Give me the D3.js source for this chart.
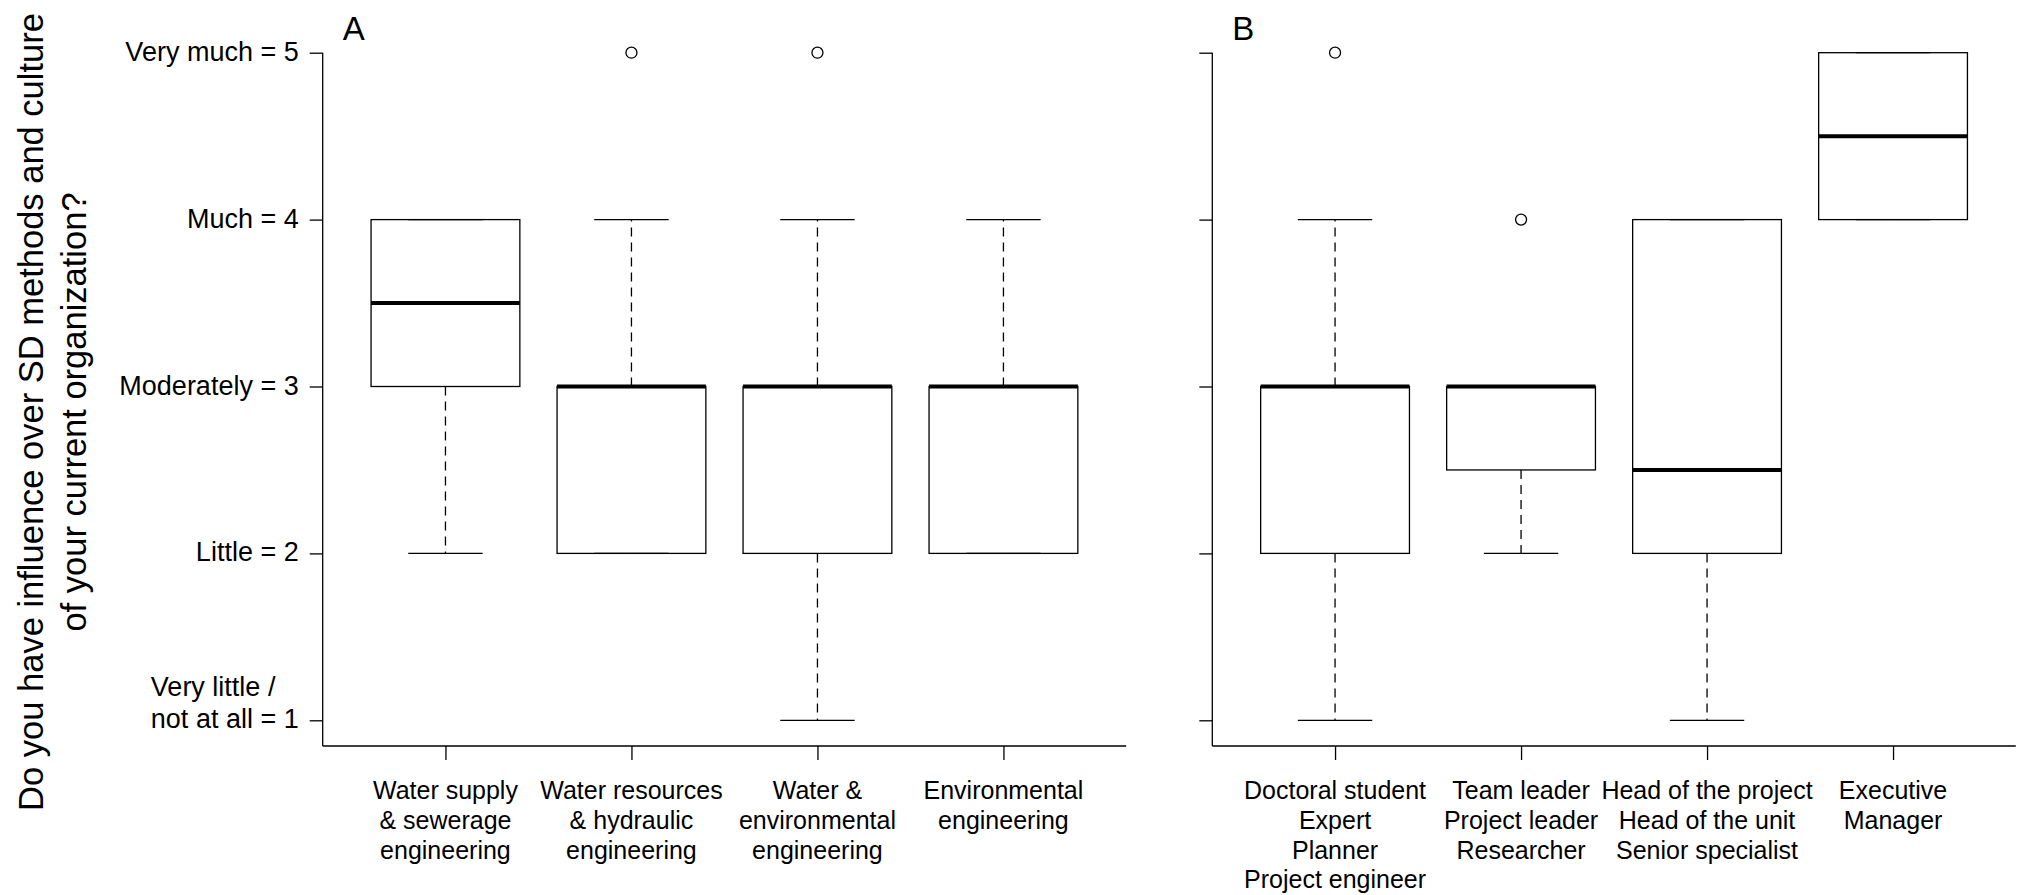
<!DOCTYPE html>
<html>
<head>
<meta charset="utf-8">
<script src="https://cdn.jsdelivr.net/npm/d3@7"></script>
<style>
  body { margin: 0; background: #fff; }
  svg { display: block; font-family: "Liberation Sans", Arial, sans-serif; }
</style>
</head>
<body>
<div id="chart"></div>
<script>
// Likert scale ticks
const yTickValues = [1, 2, 3, 4, 5];
const yTickLabels = [["Very little /", "not at all = 1"], ["Little = 2"], ["Moderately = 3"], ["Much = 4"], ["Very much = 5"]];

// Panel A: field of study
const fieldLabels = [
    ["Water supply", "& sewerage", "engineering"],
    ["Water resources", "& hydraulic", "engineering"],
    ["Water &", "environmental", "engineering"],
    ["Environmental", "engineering"]
];
const fieldLow = [2, 2, 1, 2];
const fieldQ1 = [3, 2, 2, 2];
const fieldMedian = [3.5, 3, 3, 3];
const fieldQ3 = [4, 3, 3, 3];
const fieldHigh = [4, 4, 4, 4];
const fieldOutliers = [[], [5], [5], []];

// Panel B: position
const roleLabels = [
    ["Doctoral student", "Expert", "Planner", "Project engineer"],
    ["Team leader", "Project leader", "Researcher"],
    ["Head of the project", "Head of the unit", "Senior specialist"],
    ["Executive", "Manager"]
];
const roleLow = [1, 2, 1, 4];
const roleQ1 = [2, 2.5, 2, 4];
const roleMedian = [3, 3, 2.5, 4.5];
const roleQ3 = [3, 3, 4, 5];
const roleHigh = [4, 3, 4, 5];
const roleOutliers = [[5], [4], [], []];

const yTitle = ["Do you have influence over SD methods and culture", "of your current organization?"];

function main() {
    const width = 2024, height = 895;
    const panelWidth = 803.5;
    const xAxisY = 746;

    const svg = d3.select("#chart").append("svg")
        .attr("width", width)
        .attr("height", height);

    const yScale = d3.scaleLinear()
        .domain([1, 5])
        .range([720.3, 52.7]);

    const xScale = d3.scaleLinear()
        .domain([0.34, 4.66])
        .range([0, panelWidth]);

    const panels = [
        { letter: "A", left: 322.7, labels: fieldLabels, low: fieldLow, q1: fieldQ1, med: fieldMedian, q3: fieldQ3, high: fieldHigh, out: fieldOutliers, tickText: true },
        { letter: "B", left: 1212.3, labels: roleLabels, low: roleLow, q1: roleQ1, med: roleMedian, q3: roleQ3, high: roleHigh, out: roleOutliers, tickText: false }
    ];

    panels.forEach(p => {
        const g = svg.append("g").attr("transform", `translate(${p.left},0)`);

        // axes: ticks from d3, lines drawn by hand (R bty="l" look)
        const yAxis = g.append("g")
            .call(d3.axisLeft(yScale).tickValues(yTickValues).tickSize(13).tickFormat(""));
        yAxis.select(".domain").remove();

        const xAxis = g.append("g")
            .attr("transform", `translate(0,${xAxisY})`)
            .call(d3.axisBottom(xScale).tickValues([1, 2, 3, 4]).tickSize(14).tickFormat(""));
        xAxis.select(".domain").remove();

        g.selectAll(".tick line").attr("stroke", "#000").attr("stroke-width", 1.3);

        g.append("line")
            .attr("x1", 0).attr("x2", 0)
            .attr("y1", yScale(5)).attr("y2", xAxisY)
            .attr("stroke", "#000").attr("stroke-width", 1.3);
        g.append("line")
            .attr("x1", 0).attr("x2", panelWidth)
            .attr("y1", xAxisY).attr("y2", xAxisY)
            .attr("stroke", "#000").attr("stroke-width", 1.3);

        if (p.tickText) {
            yTickValues.forEach((v, i) => {
                const lines = yTickLabels[i];
                const t = g.append("text")
                    .attr("y", yScale(v) + 8 - (lines.length - 1) * 32.4)
                    .attr("text-anchor", "start")
                    .style("font-size", "27px")
                    .style("fill", "#000");
                const spans = lines.map((s, j) =>
                    t.append("tspan").attr("dy", j === 0 ? 0 : 32.4).text(s));
                // block is right-aligned at the tick, lines left-justified inside it
                const maxW = d3.max(spans, sp => sp.node().getComputedTextLength());
                spans.forEach(sp => sp.attr("x", -24 - maxW));
            });
        }

        // panel letter
        g.append("text")
            .attr("x", 20)
            .attr("y", 40)
            .style("font-size", "33px")
            .text(p.letter);

        // category labels
        p.labels.forEach((lines, i) => {
            const t = g.append("text")
                .attr("text-anchor", "middle")
                .attr("y", 799)
                .style("font-size", "25px");
            lines.forEach((s, j) => {
                t.append("tspan")
                    .attr("x", xScale(i + 1))
                    .attr("dy", j === 0 ? 0 : 29.8)
                    .text(s);
            });
        });

        // boxes
        const boxHalf = (xScale(1.4) - xScale(1));
        const capHalf = (xScale(1.2) - xScale(1));
        const idx = d3.range(p.labels.length);

        const boxes = g.selectAll(".box").data(idx).enter().append("g").attr("class", "box");

        // whiskers
        boxes.append("line")
            .attr("x1", i => xScale(i + 1)).attr("x2", i => xScale(i + 1))
            .attr("y1", i => yScale(p.q3[i])).attr("y2", i => yScale(p.high[i]))
            .attr("stroke", "#000").attr("stroke-width", 1.3).attr("stroke-dasharray", "9,6");
        boxes.append("line")
            .attr("x1", i => xScale(i + 1)).attr("x2", i => xScale(i + 1))
            .attr("y1", i => yScale(p.q1[i])).attr("y2", i => yScale(p.low[i]))
            .attr("stroke", "#000").attr("stroke-width", 1.3).attr("stroke-dasharray", "9,6");

        // caps
        ["high", "low"].forEach(k => {
            boxes.append("line")
                .attr("x1", i => xScale(i + 1) - capHalf).attr("x2", i => xScale(i + 1) + capHalf)
                .attr("y1", i => yScale(p[k][i])).attr("y2", i => yScale(p[k][i]))
                .attr("stroke", "#000").attr("stroke-width", 1.3);
        });

        boxes.append("rect")
            .attr("x", i => xScale(i + 1) - boxHalf)
            .attr("width", 2 * boxHalf)
            .attr("y", i => yScale(p.q3[i]))
            .attr("height", i => yScale(p.q1[i]) - yScale(p.q3[i]))
            .attr("fill", "none")
            .attr("stroke", "#000").attr("stroke-width", 1.3);

        boxes.append("line")
            .attr("x1", i => xScale(i + 1) - boxHalf).attr("x2", i => xScale(i + 1) + boxHalf)
            .attr("y1", i => yScale(p.med[i])).attr("y2", i => yScale(p.med[i]))
            .attr("stroke", "#000").attr("stroke-width", 4);

        // outliers
        const outPts = [];
        p.out.forEach((arr, i) => arr.forEach(v => outPts.push({ i, v })));
        g.selectAll(".outlier").data(outPts).enter().append("circle")
            .attr("class", "outlier")
            .attr("cx", d => xScale(d.i + 1))
            .attr("cy", d => yScale(d.v))
            .attr("r", 5.5)
            .attr("fill", "none")
            .attr("stroke", "#000").attr("stroke-width", 1.3);
    });

    // y axis title, two lines
    const titleBaselines = [42.7, 86];
    yTitle.forEach((s, j) => {
        svg.append("text")
            .attr("transform", `translate(${titleBaselines[j]},412) rotate(-90)`)
            .attr("text-anchor", "middle")
            .style("font-size", "34.5px")
            .text(s);
    });
}

main();
</script>
</body>
</html>
